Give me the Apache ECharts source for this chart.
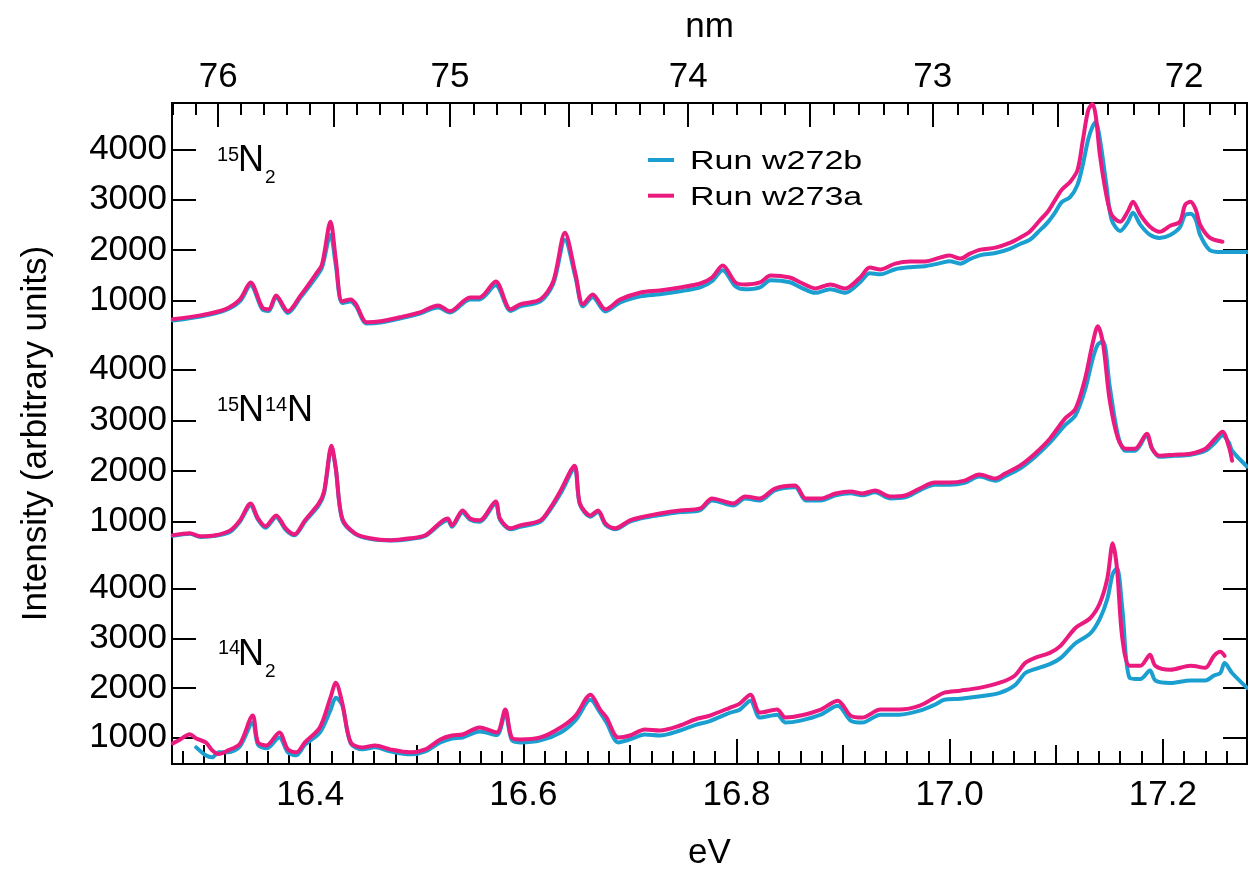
<!DOCTYPE html>
<html>
<head>
<meta charset="utf-8">
<script src="https://cdn.jsdelivr.net/npm/echarts@6/dist/echarts.min.js"></script>
<style>
  html, body { margin: 0; padding: 0; background: #fff; }
  #chart { width: 1248px; height: 876px; }
</style>
</head>
<body>
<div id="chart"></div>
<script>
// Photon energy grids (eV) and intensities for the three isotopologue spectra.
const seriesNames = ['Run w272b', 'Run w273a'];
const seriesColors = ['#1a9fd0', '#ea1a7f'];

// 15N2
const ev1 = [
  16.271,16.297,16.320,16.334,16.344,16.355,16.361,16.368,16.379,16.391,
  16.405,16.411,16.419,16.424,16.430,16.438,16.443,16.453,16.466,16.484,
  16.503,16.520,16.531,16.550,16.559,16.574,16.588,16.597,16.616,16.628,
  16.639,16.649,16.656,16.665,16.677,16.691,16.710,16.728,16.747,16.766,
  16.777,16.787,16.799,16.808,16.822,16.832,16.850,16.860,16.874,16.888,
  16.902,16.916,16.925,16.935,16.949,16.963,16.977,16.991,17.000,17.010,
  17.019,17.029,17.043,17.057,17.066,17.075,17.085,17.092,17.099,17.105,
  17.113,17.120,17.125,17.130,17.134,17.137,17.141,17.147,17.152,17.160,
  17.167,17.172,17.179,17.188,17.197,17.207,17.216,17.221,17.226,17.231,
  17.235,17.244,17.256,17.279
];
const n15n15Blue = [
  600,680,800,980,1300,820,790,1060,750,1060,
  1450,1650,2305,1700,950,980,880,540,560,640,
  740,860,760,1020,1020,1300,790,880,980,1330,
  2200,1450,880,1060,780,960,1080,1120,1180,1260,
  1380,1600,1280,1220,1260,1400,1360,1260,1150,1220,
  1150,1360,1540,1520,1620,1660,1680,1740,1780,1730,
  1820,1900,1940,2030,2120,2200,2400,2550,2750,2950,
  3050,3300,3700,4200,4450,4540,4200,3300,2600,2380,
  2550,2740,2500,2300,2240,2300,2450,2700,2720,2600,
  2300,2000,1960,1960
];
const n15n15Pink = [
  624,703,822,1020,1356,862,822,1099,783,1099,
  1514,1712,2562,1811,980,1020,921,565,585,664,
  763,901,783,1059,1059,1376,822,921,1020,1376,
  2344,1514,921,1119,822,1020,1158,1198,1257,1336,
  1455,1692,1356,1316,1356,1494,1455,1356,1237,1316,
  1237,1455,1652,1613,1731,1771,1771,1850,1890,1830,
  1929,2008,2048,2147,2246,2364,2601,2760,2997,3194,
  3353,3590,4183,4776,4900,4677,3886,3096,2700,2562,
  2760,2957,2700,2463,2364,2483,2562,2900,2957,2799,
  2503,2246,2166,null
];

// 15N14N
const ev2 = [
  16.271,16.287,16.297,16.311,16.325,16.334,16.344,16.351,16.358,16.368,
  16.377,16.385,16.395,16.408,16.413,16.420,16.424,16.430,16.442,16.456,
  16.475,16.494,16.508,16.529,16.533,16.543,16.550,16.559,16.574,16.578,
  16.588,16.597,16.616,16.625,16.635,16.648,16.653,16.663,16.670,16.677,
  16.686,16.700,16.714,16.728,16.747,16.766,16.777,16.797,16.808,16.822,
  16.836,16.855,16.865,16.879,16.893,16.907,16.918,16.930,16.944,16.958,
  16.972,16.986,17.000,17.014,17.028,17.043,17.052,17.066,17.080,17.094,
  17.108,17.118,17.127,17.134,17.139,17.144,17.150,17.158,17.165,17.174,
  17.185,17.190,17.197,17.211,17.226,17.240,17.249,17.256,17.262,17.265,
  17.279
];
const n15n14Blue = [
  720,760,700,720,800,1000,1320,1040,880,1090,
  840,730,1000,1320,1560,2450,2050,1040,760,660,
  630,660,720,1030,900,1180,1040,1000,1360,1040,
  850,900,1000,1230,1560,2050,1340,1100,1190,940,
  850,1000,1080,1130,1190,1230,1420,1320,1460,1420,
  1620,1680,1420,1420,1520,1560,1520,1580,1460,1480,
  1620,1730,1730,1770,1890,1810,1900,2050,2280,2560,
  2900,3100,3600,4200,4500,4560,3700,2700,2400,2400,
  2700,2440,2280,2300,2320,2400,2560,2700,2560,2400,
  2090
];
const n15n14Pink = [
  731,770,711,731,829,1026,1360,1065,908,1124,
  868,750,1026,1360,1596,2500,2048,1065,770,672,
  633,672,731,1065,927,1222,1065,1026,1399,1065,
  868,927,1026,1261,1615,2107,1360,1124,1222,967,
  868,1026,1104,1163,1222,1261,1458,1360,1497,1458,
  1655,1714,1458,1458,1556,1596,1556,1615,1497,1517,
  1655,1773,1773,1812,1930,1851,1950,2107,2343,2638,
  3031,3228,3818,4506,4860,4506,3424,2638,2441,2441,
  2736,2441,2303,2323,2343,2441,2638,2776,2480,2205,
  null
];

// 14N2
const ev3 = [
  16.271,16.278,16.287,16.293,16.302,16.308,16.314,16.323,16.334,16.346,
  16.351,16.359,16.371,16.379,16.387,16.395,16.409,16.419,16.424,16.430,
  16.438,16.449,16.461,16.475,16.494,16.508,16.522,16.533,16.543,16.559,
  16.575,16.583,16.589,16.597,16.616,16.635,16.649,16.663,16.672,16.678,
  16.689,16.700,16.714,16.728,16.747,16.761,16.775,16.794,16.803,16.813,
  16.822,16.838,16.846,16.860,16.879,16.895,16.907,16.918,16.935,16.953,
  16.972,16.986,16.995,17.010,17.029,17.047,17.061,17.071,17.080,17.094,
  17.104,17.118,17.132,17.141,17.148,17.153,17.157,17.162,17.169,17.179,
  17.188,17.193,17.207,17.226,17.240,17.248,17.254,17.258,17.265,17.279
];
const n14n14Blue = [
  null,null,null,800,640,600,700,700,820,1300,
  850,780,1000,700,640,850,1100,1550,1800,1650,
  880,760,800,720,660,720,900,980,1000,1120,
  1050,1500,950,900,940,1100,1350,1760,1500,1300,
  900,960,1060,1040,1140,1250,1330,1500,1560,1740,
  1400,1460,1300,1340,1460,1640,1340,1300,1460,1460,
  1540,1660,1760,1780,1830,1900,2050,2300,2380,2480,
  2600,2900,3100,3400,3800,4300,4420,3600,2200,2180,
  2350,2150,2100,2150,2150,2250,2300,2500,2300,2000
];
const n14n14Pink = [
  880,960,1066,980,900,740,665,740,870,1442,
  900,839,1100,759,699,900,1201,1804,2105,1703,
  900,799,839,759,699,759,960,1040,1060,1201,
  1100,1563,1000,960,1000,1201,1442,1864,1563,1402,
  1000,1040,1161,1141,1241,1362,1442,1603,1683,1864,
  1502,1563,1402,1442,1563,1743,1442,1402,1563,1563,
  1643,1804,1904,1944,2005,2105,2246,2507,2607,2708,
  2848,3210,3411,3712,4214,4918,4415,3009,2446,2446,
  2667,2446,2366,2446,2406,2647,2728,2647,null,null
];

// Axis tick labels
const eVLabels = [16.4, 16.6, 16.8, 17.0, 17.2];
const eVMidTicks = [16.3, 16.5, 16.7, 16.9, 17.1];
const nmLabels = [76, 75, 74, 73, 72];
const intensityLabels = [1000, 2000, 3000, 4000];

// Each offset panel gets its own intensity scale sharing the plot area.
const panelRanges = [[-8209, 4921], [-3785, 9268], [464, 13805]];

const FONT = "'Liberation Sans', Arial, Helvetica, sans-serif";
const HC = 1239.84;               // eV * nm
const EV_MIN = 16.2703, EV_MAX = 17.279;

const eVMinorTicks = [];
for (let k = 0; k <= 49; k++) eVMinorTicks.push(+(16.28 + 0.02 * k).toFixed(2));
const nmHalfTicks = [];
for (let k = 0; k <= 8; k++) nmHalfTicks.push(HC / (76 - 0.5 * k));
const nmMinorTicks = [];
for (let k = 0; k <= 44; k++) nmMinorTicks.push(HC / +(76.2 - 0.1 * k).toFixed(1));

const black = '#000';
const tickStyle = { color: black, width: 2 };

function xTickAxis(position, ticks, length, extra) {
  return Object.assign({
    type: 'value', position, min: EV_MIN, max: EV_MAX,
    axisLine: { show: false, onZero: false },
    splitLine: { show: false },
    axisTick: { show: true, inside: true, length, customValues: ticks, lineStyle: tickStyle },
    axisLabel: { show: false }
  }, extra || {});
}

function panelAxis(range, side, extra) {
  return Object.assign({
    type: 'value', position: side, min: range[0], max: range[1],
    axisLine: { show: false, onZero: false },
    splitLine: { show: false },
    axisTick: { show: true, inside: true, length: 24, customValues: intensityLabels, lineStyle: tickStyle },
    axisLabel: {
      show: side === 'left', customValues: intensityLabels, margin: 5,
      fontSize: 35, color: black, fontFamily: FONT,
      formatter: v => String(Math.round(v))
    }
  }, extra || {});
}

const xAxes = [
  xTickAxis('bottom', eVLabels, 25, {
    name: 'eV', nameLocation: 'middle', nameGap: 72,
    nameTextStyle: { fontSize: 35, color: black, fontFamily: FONT },
    axisLabel: {
      show: true, customValues: eVLabels, margin: 14,
      fontSize: 35, color: black, fontFamily: FONT,
      formatter: v => (+v).toFixed(1)
    }
  }),
  xTickAxis('bottom', eVMidTicks, 19),
  xTickAxis('bottom', eVMinorTicks, 13),
  xTickAxis('top', nmHalfTicks, 24, {
    name: 'nm', nameLocation: 'middle', nameGap: 58,
    nameTextStyle: { fontSize: 35, color: black, fontFamily: FONT },
    axisLabel: {
      show: true, customValues: nmLabels.map(n => HC / n), margin: 8,
      fontSize: 35, color: black, fontFamily: FONT,
      formatter: v => String(Math.round(HC / v))
    }
  }),
  xTickAxis('top', nmMinorTicks, 12)
];

const yAxes = [
  panelAxis(panelRanges[0], 'left', {
    name: 'Intensity (arbitrary units)', nameLocation: 'middle', nameGap: 118,
    nameTextStyle: { fontSize: 35, color: black, fontFamily: FONT }
  }),
  panelAxis(panelRanges[1], 'left'),
  panelAxis(panelRanges[2], 'left'),
  panelAxis(panelRanges[0], 'right'),
  panelAxis(panelRanges[1], 'right'),
  panelAxis(panelRanges[2], 'right')
];

function lineSeries(name, ev, vals, color, yIndex) {
  return {
    type: 'line', name, xAxisIndex: 0, yAxisIndex: yIndex,
    data: ev.map((x, i) => [x, vals[i]]),
    showSymbol: false, symbol: 'none', smooth: 0.3,
    lineStyle: { color, width: 4, join: 'round', cap: 'round' },
    itemStyle: { color },
    emphasis: { disabled: true }
  };
}

const series = [
  lineSeries(seriesNames[0], ev1, n15n15Blue, seriesColors[0], 0),
  lineSeries(seriesNames[1], ev1, n15n15Pink, seriesColors[1], 0),
  lineSeries(seriesNames[0], ev2, n15n14Blue, seriesColors[0], 1),
  lineSeries(seriesNames[1], ev2, n15n14Pink, seriesColors[1], 1),
  lineSeries(seriesNames[0], ev3, n14n14Blue, seriesColors[0], 2),
  lineSeries(seriesNames[1], ev3, n14n14Pink, seriesColors[1], 2)
];

// Isotopologue labels with superscript mass numbers and subscripts.
function textPart(str, x, y, size) {
  return {
    type: 'text', x, y, silent: true,
    style: { text: str, fill: black, font: size + 'px ' + FONT, textAlign: 'left', textVerticalAlign: 'middle' }
  };
}
const speciesGraphics = [
  textPart('15', 217, 155, 20), textPart('N', 238, 161, 36), textPart('2', 265, 178, 19),
  textPart('15', 217, 405, 20), textPart('N', 238, 411, 36),
  textPart('14', 265, 405, 20), textPart('N', 287, 411, 36),
  textPart('14', 218, 648, 20), textPart('N', 238, 655, 36), textPart('2', 265, 672, 19)
];

// Legend: short coloured strokes with run names.
const legendGraphics = [];
seriesNames.forEach((name, i) => {
  const y = 160 + 35.7 * i;
  legendGraphics.push({
    type: 'line', silent: true,
    shape: { x1: 648, y1: y, x2: 674, y2: y },
    style: { stroke: seriesColors[i], lineWidth: 4 }
  });
  legendGraphics.push({
    type: 'text', x: 690, y: y + 1.8, scaleX: 1.31, originX: 0, silent: true,
    style: { text: name, fill: black, font: '26px ' + FONT, textAlign: 'left', textVerticalAlign: 'middle' }
  });
});

const chart = echarts.init(document.getElementById('chart'), null, { renderer: 'canvas' });
chart.setOption({
  animation: false,
  backgroundColor: '#fff',
  grid: {
    left: 172, right: 1, top: 103, bottom: 109,
    show: true, borderColor: black, borderWidth: 2, backgroundColor: 'transparent'
  },
  xAxis: xAxes,
  yAxis: yAxes,
  series,
  graphic: speciesGraphics.concat(legendGraphics)
});
</script>
</body>
</html>
